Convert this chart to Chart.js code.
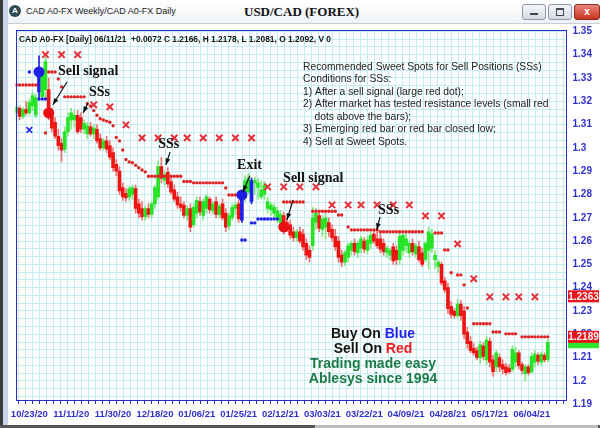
<!DOCTYPE html>
<html>
<head>
<meta charset="utf-8">
<script src="https://cdn.jsdelivr.net/npm/chart.js@4.4.0/dist/chart.umd.min.js"></script>
<style>
  html, body { margin: 0; padding: 0; background: #fff; }
  #wrap { position: relative; width: 600px; height: 428px; overflow: hidden; background: #fff; }
  #c { position: absolute; left: 0; top: 0; }
  .lstripe { position: absolute; left: 0; top: 0; width: 3px; height: 428px; background: #3a3a3a; z-index: 2; }
  .lstripe2 { position: absolute; left: 3px; top: 0; width: 5px; height: 428px; background: #c6d4e6; z-index: 2; }
  .tbar { position: absolute; left: 8px; top: 0; width: 592px; height: 23px; background: linear-gradient(#ffffff, #eef1f5); border-bottom: 1px solid #c9ced6; z-index: 2; }
  .icon { position: absolute; left: 1px; top: 5px; width: 12px; height: 12px; border-radius: 50%; background: #2d4b55; color: #fff; font: bold 8px Arial, sans-serif; line-height: 12px; text-align: center; }
  .wtitle { position: absolute; left: 18px; top: 6px; font: 9px Arial, "Liberation Sans", sans-serif; color: #222; white-space: nowrap; }
  .ctitle { position: absolute; left: 236px; top: 4px; font: bold 13px "Liberation Serif", "Times New Roman", serif; color: #111; white-space: nowrap; }
  .btn { position: absolute; top: 4px; width: 22px; height: 14px; border: 1px solid #8d97a5; border-radius: 3px; background: linear-gradient(#f4f6f9, #d5dbe4); }
  .btn.min { left: 514px; } .btn.max { left: 540px; }
  .btn.cls { left: 566px; width: 24px; background: linear-gradient(#e9857a, #c8321f); border-color: #8b2a1e; color: #fff; font: bold 10px Arial, sans-serif; line-height: 14px; text-align: center; }
  .btn.min::after { content: ""; position: absolute; left: 7px; top: 8px; width: 8px; height: 2px; background: #445; }
  .btn.max::after { content: ""; position: absolute; left: 7px; top: 3px; width: 6px; height: 5px; border: 1px solid #445; border-top-width: 2px; }
  .bbar { position: absolute; left: 0; top: 425px; width: 600px; height: 3px; background: #555; z-index: 2; }
  .bthumb { position: absolute; left: 315px; top: 425px; width: 283px; height: 3px; background: #bdbdbd; z-index: 3; }
</style>
</head>
<body>
<div id="wrap">
  <canvas id="c" width="600" height="428"></canvas>
  <div class="lstripe"></div><div class="lstripe2"></div>
  <div class="tbar">
    <div class="icon">A</div>
    <div class="wtitle">CAD A0-FX Weekly/CAD A0-FX Daily</div>
    <div class="ctitle">USD/CAD (FOREX)</div>
    <div class="btn min"></div><div class="btn max"></div><div class="btn cls">x</div>
  </div>
  <div class="bbar"></div><div class="bthumb"></div>
</div>
<script>
// daily bars, index 0 = 10/19/20 ... index 165 = 06/11/21
const opens = [
  1.3150,1.3170,1.3135,1.3165,1.3150,1.3180,1.3140,1.3240,1.3220,1.3250,
  1.3250,1.3150,1.3110,1.3050,1.3020,1.2995,1.3070,1.3120,1.3120,1.3140,
  1.3130,1.3080,1.3060,1.3090,1.3060,1.3080,1.3040,1.3000,1.3030,1.3010,
  1.2980,1.2930,1.2900,1.2830,1.2805,1.2790,1.2800,1.2825,1.2760,1.2740,
  1.2705,1.2740,1.2715,1.2760,1.2790,1.2920,1.2860,1.2895,1.2855,1.2820,
  1.2790,1.2760,1.2755,1.2710,1.2740,1.2670,1.2720,1.2770,1.2710,1.2740,
  1.2780,1.2730,1.2770,1.2715,1.2760,1.2720,1.2665,1.2700,1.2740,1.2760,
  1.2690,1.2785,1.2810,1.2770,1.2850,1.2830,1.2790,1.2800,1.2740,1.2735,
  1.2720,1.2700,1.2680,1.2710,1.2680,1.2670,1.2640,1.2615,1.2640,1.2630,
  1.2590,1.2560,1.2580,1.2680,1.2710,1.2650,1.2660,1.2680,1.2650,1.2620,
  1.2600,1.2540,1.2510,1.2530,1.2560,1.2590,1.2550,1.2570,1.2600,1.2560,
  1.2590,1.2630,1.2610,1.2610,1.2590,1.2550,1.2540,1.2575,1.2560,1.2520,
  1.2560,1.2580,1.2550,1.2590,1.2545,1.2575,1.2550,1.2520,1.2560,1.2570,
  1.2520,1.2490,1.2500,1.2430,1.2400,1.2320,1.2300,1.2280,1.2330,1.2300,
  1.2210,1.2170,1.2140,1.2130,1.2100,1.2150,1.2090,1.2170,1.2090,1.2060,
  1.2100,1.2070,1.2060,1.2055,1.2050,1.2080,1.2120,1.2070,1.2030,1.2060,
  1.2040,1.2080,1.2110,1.2080,1.2110,1.2092
];
const highs = [
  1.3190,1.3180,1.3175,1.3200,1.3210,1.3240,1.3230,1.3395,1.3345,1.3390,
  1.3300,1.3170,1.3130,1.3080,1.3040,1.3090,1.3150,1.3170,1.3160,1.3160,
  1.3150,1.3120,1.3110,1.3110,1.3100,1.3100,1.3060,1.3040,1.3050,1.3030,
  1.3000,1.2950,1.2920,1.2850,1.2825,1.2835,1.2840,1.2840,1.2780,1.2770,
  1.2750,1.2760,1.2770,1.2840,1.2945,1.2960,1.2900,1.2915,1.2880,1.2840,
  1.2810,1.2790,1.2770,1.2750,1.2760,1.2760,1.2790,1.2790,1.2780,1.2800,
  1.2790,1.2770,1.2790,1.2760,1.2780,1.2740,1.2720,1.2760,1.2765,1.2775,
  1.2800,1.2880,1.2890,1.2870,1.2875,1.2870,1.2860,1.2855,1.2790,1.2765,
  1.2760,1.2745,1.2730,1.2725,1.2700,1.2690,1.2660,1.2650,1.2660,1.2650,
  1.2610,1.2580,1.2745,1.2740,1.2730,1.2710,1.2720,1.2700,1.2670,1.2650,
  1.2620,1.2560,1.2560,1.2590,1.2600,1.2610,1.2600,1.2620,1.2615,1.2620,
  1.2640,1.2650,1.2640,1.2630,1.2610,1.2580,1.2570,1.2590,1.2580,1.2640,
  1.2640,1.2630,1.2600,1.2610,1.2590,1.2600,1.2570,1.2600,1.2660,1.2650,
  1.2560,1.2520,1.2510,1.2445,1.2420,1.2340,1.2310,1.2350,1.2345,1.2320,
  1.2230,1.2190,1.2160,1.2145,1.2170,1.2165,1.2190,1.2185,1.2110,1.2130,
  1.2115,1.2090,1.2075,1.2070,1.2150,1.2145,1.2130,1.2080,1.2070,1.2070,
  1.2120,1.2130,1.2120,1.2125,1.2120,1.2178
];
const lows = [
  1.3120,1.3120,1.3125,1.3140,1.3140,1.3160,1.3130,1.3215,1.3205,1.3210,
  1.3120,1.3070,1.3040,1.2990,1.2940,1.2980,1.3050,1.3080,1.3090,1.3060,
  1.3065,1.3060,1.3040,1.3050,1.3040,1.3020,1.2990,1.2990,1.2980,1.2950,
  1.2900,1.2880,1.2800,1.2775,1.2770,1.2775,1.2780,1.2720,1.2700,1.2690,
  1.2690,1.2700,1.2700,1.2740,1.2780,1.2850,1.2840,1.2830,1.2800,1.2770,
  1.2740,1.2730,1.2700,1.2690,1.2640,1.2660,1.2700,1.2710,1.2690,1.2720,
  1.2720,1.2715,1.2700,1.2700,1.2690,1.2640,1.2650,1.2690,1.2715,1.2680,
  1.2680,1.2770,1.2800,1.2760,1.2800,1.2780,1.2780,1.2780,1.2720,1.2710,
  1.2705,1.2680,1.2660,1.2630,1.2640,1.2610,1.2600,1.2600,1.2590,1.2560,
  1.2520,1.2510,1.2560,1.2650,1.2640,1.2620,1.2610,1.2620,1.2600,1.2560,
  1.2510,1.2490,1.2495,1.2510,1.2540,1.2540,1.2530,1.2550,1.2550,1.2545,
  1.2570,1.2590,1.2570,1.2550,1.2540,1.2530,1.2520,1.2500,1.2500,1.2500,
  1.2540,1.2550,1.2530,1.2540,1.2530,1.2510,1.2490,1.2510,1.2480,1.2550,
  1.2480,1.2465,1.2410,1.2380,1.2290,1.2270,1.2270,1.2270,1.2260,1.2180,
  1.2140,1.2120,1.2110,1.2090,1.2075,1.2090,1.2070,1.2060,1.2020,1.2040,
  1.2040,1.2030,1.2025,1.2030,1.2040,1.2060,1.2050,1.2030,1.2000,1.2025,
  1.2030,1.2060,1.2070,1.2065,1.2080,1.2081
];
const closes = [
  1.3175,1.3135,1.3165,1.3150,1.3195,1.3225,1.3215,1.3330,1.3330,1.3370,
  1.3140,1.3085,1.3050,1.3010,1.2990,1.3070,1.3130,1.3150,1.3140,1.3070,
  1.3080,1.3105,1.3095,1.3060,1.3085,1.3030,1.3000,1.3030,1.2995,1.2960,
  1.2915,1.2900,1.2815,1.2790,1.2785,1.2825,1.2830,1.2740,1.2720,1.2705,
  1.2740,1.2715,1.2760,1.2830,1.2920,1.2870,1.2885,1.2845,1.2810,1.2780,
  1.2755,1.2745,1.2710,1.2740,1.2660,1.2745,1.2775,1.2725,1.2770,1.2790,
  1.2735,1.2760,1.2715,1.2750,1.2700,1.2660,1.2710,1.2745,1.2755,1.2695,
  1.2790,1.2860,1.2870,1.2860,1.2860,1.2850,1.2820,1.2840,1.2770,1.2755,
  1.2745,1.2730,1.2715,1.2650,1.2655,1.2625,1.2615,1.2640,1.2600,1.2575,
  1.2540,1.2530,1.2700,1.2720,1.2655,1.2695,1.2700,1.2640,1.2615,1.2575,
  1.2530,1.2510,1.2550,1.2580,1.2590,1.2555,1.2590,1.2610,1.2565,1.2605,
  1.2625,1.2600,1.2580,1.2565,1.2555,1.2570,1.2560,1.2515,1.2520,1.2620,
  1.2625,1.2610,1.2590,1.2555,1.2580,1.2520,1.2500,1.2590,1.2640,1.2630,
  1.2540,1.2510,1.2420,1.2390,1.2310,1.2285,1.2280,1.2330,1.2280,1.2200,
  1.2160,1.2130,1.2120,1.2100,1.2155,1.2105,1.2175,1.2080,1.2040,1.2120,
  1.2060,1.2050,1.2035,1.2040,1.2135,1.2120,1.2065,1.2045,1.2060,1.2035,
  1.2105,1.2115,1.2085,1.2115,1.2090,1.2166
];
// bars painted blue (buy / exit bars)
const blueBars = [7, 70, 73];

// small red dots above the bars (resistance), one slot per bar
const resistance = [
  1.3270,1.3270,1.3270,1.3270,1.3270,1.3270,1.3270,null,null,1.3064,
  1.3326,1.3326,1.3326,1.3296,1.3262,1.3219,1.3219,1.3219,1.3219,1.3219,
  1.3219,1.3219,1.3190,1.3180,1.3160,1.3140,1.3125,1.3120,1.3115,1.3110,
  1.3095,1.3045,1.3030,1.2991,1.2950,1.2940,1.2936,1.2925,1.2915,1.2905,
  1.2897,1.2878,1.2878,1.2878,1.2878,1.2878,1.2878,1.2878,1.2878,1.2878,
  1.2878,1.2878,1.2856,1.2856,1.2856,1.2850,1.2850,1.2850,1.2850,1.2850,
  1.2850,1.2850,1.2850,1.2850,1.2850,1.2828,1.2798,1.2798,1.2798,1.2798,
  null,null,null,null,null,null,null,null,null,null,
  null,null,null,1.2768,1.2768,1.2768,1.2768,1.2768,1.2768,1.2768,
  null,null,1.2728,1.2728,1.2728,1.2728,1.2728,1.2728,1.2728,1.2728,
  1.2712,1.2712,null,1.2661,1.2648,1.2648,1.2648,1.2648,1.2648,1.2648,
  1.2648,1.2648,1.2648,1.2640,1.2640,1.2640,1.2640,1.2640,1.2640,1.2640,
  1.2640,1.2640,1.2640,1.2640,1.2640,1.2640,1.2640,null,null,null,
  1.2635,1.2635,1.2635,1.2562,1.2562,1.2464,null,1.2455,1.2455,1.2412,
  1.2313,null,1.2245,1.2245,1.2245,1.2245,1.2245,1.2245,1.2210,1.2210,
  1.2210,null,1.2202,1.2202,1.2202,1.2202,null,1.2189,1.2189,1.2189,
  1.2189,1.2189,1.2189,1.2189,1.2189,1.2189
];
// small blue dots (support)
const supportIdx = [4, 7, 8, 9, 70, 71, 73, 74, 75, 76, 77, 78, 79, 80, 81];
const supportVal = [1.3326, 1.3210, 1.3210, 1.3210, 1.2605, 1.2605, 1.2678, 1.2678,
                    1.2695, 1.2695, 1.2695, 1.2695, 1.2695, 1.2695, 1.2695];
// red X marks (weekly stop levels)
const crossIdx = [9, 14, 19, 24, 29, 34, 39, 44, 49, 53, 58, 63, 68, 73, 78, 83, 88, 93,
                  98, 103, 107, 112, 117, 122, 127, 132, 137, 142, 147, 152, 156, 161];
const crossVal = [1.3400, 1.3400, 1.3400, 1.3185, 1.3176, 1.3099,
                  1.3043, 1.3043, 1.3043, 1.3043, 1.3043, 1.3043, 1.3043, 1.3043,
                  1.2833, 1.2833, 1.2833, 1.2833,
                  1.2755, 1.2755, 1.2755, 1.2755, 1.2755, 1.2755,
                  1.2708, 1.2708, 1.2588, 1.2438,
                  1.2361, 1.2361, 1.2361, 1.2361];
const blueCrossIdx = [4];
const blueCrossVal = [1.3077];
// large signal dots
const buyIdx = [7, 70];
const buyVal = [1.3326, 1.2798];
const sellIdx = [10, 83];
const sellVal = [1.3150, 1.2661];
// right axis flags
const stopFlags = [1.2363, 1.2189];
const lastClose = 1.2166;

// axis ticks
const tickLabels = ['10/23/20', '11/11/20', '11/30/20', '12/18/20', '01/06/21', '01/25/21', '02/12/21',
                    '03/03/21', '03/22/21', '04/09/21', '04/28/21', '05/17/21', '06/04/21'];
const firstLabelIdx = 4;
const labelStep = 13;
const yMin = 1.1918, yMax = 1.3506;

const GREEN = '#27e327', GREEN_W = '#7fe87f';
const RED = '#ee1414', RED_W = '#f07272';
const BLUE = '#1f1fe8';
const GRID = '#c3edf2';
const AXIS_BLUE = '#2f2fcc';

const notes = [
  { text: 'Sell signal', at: [12.9, 1.3330], from: [15.7, 1.3283], to: [11.3, 1.3185] },
  { text: 'SSs', at: [22.5, 1.3240], from: [22.2, 1.3193], to: [20.7, 1.3150] },
  { text: 'SSs', at: [44.0, 1.3017], from: [47.7, 1.2983], to: [46.4, 1.2927] },
  { text: 'Exit', at: [68.5, 1.2927], from: [72.5, 1.2880], to: [70.3, 1.2811] },
  { text: 'Sell signal', at: [82.8, 1.2867], from: [85.9, 1.2777], to: [84.0, 1.2691] },
  { text: 'SSs', at: [112.3, 1.2730], from: [112.9, 1.2704], to: [111.9, 1.2648] },
];
const boxLines = [
  'Recommended Sweet Spots for Sell Positions (SSs)',
  'Conditions for SSs:',
  '1) After a sell signal (large red dot);',
  '2) After market has tested resistance levels (small red',
  '    dots above the bars);',
  '3) Emerging red bar or red bar closed low;',
  '4) Sell at Sweet Spots.',
];
const header = 'CAD A0-FX [Daily] 06/11/21  +0.0072 C 1.2166, H 1.2178, L 1.2081, O 1.2092, V 0';

const idx = closes.map((_, i) => i);
const isBlue = i => blueBars.includes(i);
const barColor = i => isBlue(i) ? BLUE : (closes[i] >= opens[i] ? GREEN : RED);
const wickColor = i => isBlue(i) ? BLUE : (closes[i] >= opens[i] ? GREEN_W : RED_W);
const pts = (ix, vals) => ix.map((x, k) => ({ x: x, y: vals[k] }));

function arrow(ctx, x1, y1, x2, y2) {
  const a = Math.atan2(y2 - y1, x2 - x1), h = 7;
  ctx.beginPath(); ctx.moveTo(x1, y1); ctx.lineTo(x2, y2); ctx.stroke();
  ctx.beginPath();
  ctx.moveTo(x2, y2);
  ctx.lineTo(x2 - h * Math.cos(a - 0.35), y2 - h * Math.sin(a - 0.35));
  ctx.lineTo(x2 - h * Math.cos(a + 0.35), y2 - h * Math.sin(a + 0.35));
  ctx.closePath(); ctx.fill();
}

function flag(ctx, x0, yc, txt, bg) {
  ctx.fillStyle = bg;
  ctx.fillRect(x0, yc - 6, 31, 12);
  if (txt) {
    ctx.fillStyle = '#f2f2f2';
    ctx.font = 'bold 10px Arial, "Liberation Sans", sans-serif';
    ctx.textAlign = 'center';
    ctx.textBaseline = 'middle';
    ctx.fillText(txt, x0 + 15.5, yc + 0.5);
  }
}

const overlay = {
  id: 'overlay',
  afterDatasetsDraw(chart) {
    const { ctx, scales: { x, y } } = chart;
    ctx.save();
    ctx.fillStyle = '#111';
    ctx.strokeStyle = '#111';
    ctx.lineWidth = 1.2;
    ctx.font = 'bold 14px "Liberation Serif", "Times New Roman", serif';
    ctx.textBaseline = 'middle';
    ctx.textAlign = 'left';
    notes.forEach(n => {
      ctx.fillText(n.text, x.getPixelForValue(n.at[0]), y.getPixelForValue(n.at[1]));
      arrow(ctx, x.getPixelForValue(n.from[0]), y.getPixelForValue(n.from[1]),
                 x.getPixelForValue(n.to[0]), y.getPixelForValue(n.to[1]));
    });
    ctx.restore();
  },
  afterDraw(chart) {
    const { ctx, chartArea: a, scales: { y } } = chart;
    ctx.save();
    // plot border
    ctx.strokeStyle = '#2c2cc4';
    ctx.lineWidth = 1;
    ctx.strokeRect(Math.round(a.left) + 0.5, Math.round(a.top) + 0.5,
                   Math.round(a.right - a.left), Math.round(a.bottom - a.top));
    // header line
    ctx.fillStyle = '#111';
    ctx.font = 'bold 9px Arial, "Liberation Sans", sans-serif';
    ctx.textBaseline = 'middle';
    ctx.textAlign = 'left';
    ctx.fillText(header, 19, 40, 312);
    // explanation box
    ctx.fillStyle = '#222';
    ctx.font = '10.3px Arial, "Liberation Sans", sans-serif';
    boxLines.forEach((t, k) => ctx.fillText(t, 303, 67 + k * 12.5));
    // buy / sell legend
    const cx = 373;
    const two = (parts, yy) => {
      const w = parts.reduce((s, p) => s + ctx.measureText(p[0]).width, 0);
      let xx = cx - w / 2;
      parts.forEach(p => { ctx.fillStyle = p[1]; ctx.fillText(p[0], xx, yy); xx += ctx.measureText(p[0]).width; });
    };
    ctx.font = 'bold 14px Arial, "Liberation Sans", sans-serif';
    two([['Buy On ', '#111'], ['Blue', '#2020f0']], 334);
    two([['Sell On ', '#111'], ['Red', '#ee1c1c']], 349);
    two([['Trading made easy', '#1b7b48']], 364);
    two([['Ablesys since 1994', '#1b7b48']], 379);
    // extra bottom tick label
    ctx.fillStyle = AXIS_BLUE;
    ctx.font = 'bold 10px Arial, "Liberation Sans", sans-serif';
    ctx.fillText('1.19', a.right + 7, y.getPixelForValue(1.19));
    // right side flags
    const fx = Math.round(a.right) + 2;
    flag(ctx, fx, y.getPixelForValue(lastClose), '', '#2fe62f');
    flag(ctx, fx, y.getPixelForValue(stopFlags[1]), stopFlags[1].toFixed(4), '#e8141c');
    flag(ctx, fx, y.getPixelForValue(stopFlags[0]), stopFlags[0].toFixed(4), '#e8141c');
    ctx.restore();
  }
};

new Chart(document.getElementById('c'), {
  type: 'bar',
  data: {
    datasets: [
      {
        type: 'scatter', label: 'buy', data: pts(buyIdx, buyVal), order: 1,
        pointStyle: 'circle', pointRadius: 5.5, backgroundColor: BLUE, borderWidth: 0
      },
      {
        type: 'scatter', label: 'sell', data: pts(sellIdx, sellVal), order: 1,
        pointStyle: 'circle', pointRadius: 5.5, backgroundColor: '#e81010', borderWidth: 0
      },
      {
        type: 'scatter', label: 'stops', data: pts(crossIdx, crossVal), order: 2,
        pointStyle: 'crossRot', pointRadius: 4.5, borderColor: '#e8303a', borderWidth: 2
      },
      {
        type: 'scatter', label: 'blue stop', data: pts(blueCrossIdx, blueCrossVal), order: 2,
        pointStyle: 'crossRot', pointRadius: 4, borderColor: BLUE, borderWidth: 1.6
      },
      {
        type: 'scatter', label: 'resistance', order: 3,
        data: idx.filter(i => resistance[i] != null).map(i => ({ x: i, y: resistance[i] })),
        pointStyle: 'circle', pointRadius: 1.7, backgroundColor: '#e02424', borderWidth: 0
      },
      {
        type: 'scatter', label: 'support', data: pts(supportIdx, supportVal), order: 3,
        pointStyle: 'circle', pointRadius: 1.7, backgroundColor: BLUE, borderWidth: 0
      },
      {
        label: 'body', order: 8, grouped: false, barThickness: 3, minBarLength: 1, borderWidth: 0,
        data: idx.map(i => ({ x: i, y: [Math.min(opens[i], closes[i]), Math.max(opens[i], closes[i])] })),
        backgroundColor: idx.map(barColor)
      },
      {
        label: 'range', order: 9, grouped: false, barThickness: 1, borderWidth: 0,
        data: idx.map(i => ({ x: i, y: [lows[i], highs[i]] })),
        backgroundColor: idx.map(wickColor)
      }
    ]
  },
  options: {
    responsive: false,
    animation: false,
    devicePixelRatio: 1,
    layout: { padding: { left: 15.5, top: 30, right: 0, bottom: 0 } },
    plugins: { legend: { display: false }, tooltip: { enabled: false }, title: { display: false } },
    scales: {
      x: {
        type: 'linear', min: -0.3, max: 170.5, offset: false,
        afterBuildTicks: s => {
          const t = [];
          for (let k = -1; firstLabelIdx + k * labelStep / 6 <= s.max; k++) {
            const v = firstLabelIdx + k * labelStep / 6;
            if (v >= s.min) t.push({ value: v });
          }
          s.ticks = t;
        },
        afterFit: s => { s.height = 28; },
        grid: { color: GRID, lineWidth: 1, drawTicks: true, tickLength: 4, tickColor: AXIS_BLUE },
        border: { display: false },
        ticks: {
          autoSkip: false, maxRotation: 0, minRotation: 0, padding: 5,
          color: AXIS_BLUE, font: { family: 'Arial, "Liberation Sans", sans-serif', size: 9.5, weight: 'bold' },
          callback: v => {
            const k = (v - firstLabelIdx) / labelStep;
            const r = Math.round(k);
            return Math.abs(k - r) < 1e-6 && tickLabels[r] ? tickLabels[r] : '';
          }
        }
      },
      y: {
        type: 'linear', position: 'right', min: yMin, max: yMax,
        afterBuildTicks: s => {
          const t = [];
          for (let k = -2; k <= 45; k++) {
            const v = 1.2 + k / 300;
            if (v >= s.min && v <= s.max) t.push({ value: v });
          }
          s.ticks = t;
        },
        afterFit: s => { s.width = 34.5; },
        grid: { color: GRID, lineWidth: 1, drawTicks: false },
        border: { display: false },
        ticks: {
          padding: 7, color: AXIS_BLUE, autoSkip: false,
          font: { family: 'Arial, "Liberation Sans", sans-serif', size: 10, weight: 'bold' },
          callback: v => {
            const k = Math.round((v - 1.2) * 300);
            return k % 3 === 0 ? String(+(1.2 + k / 300).toFixed(2)) : '';
          }
        }
      }
    }
  },
  plugins: [overlay]
});
</script>
</body>
</html>
